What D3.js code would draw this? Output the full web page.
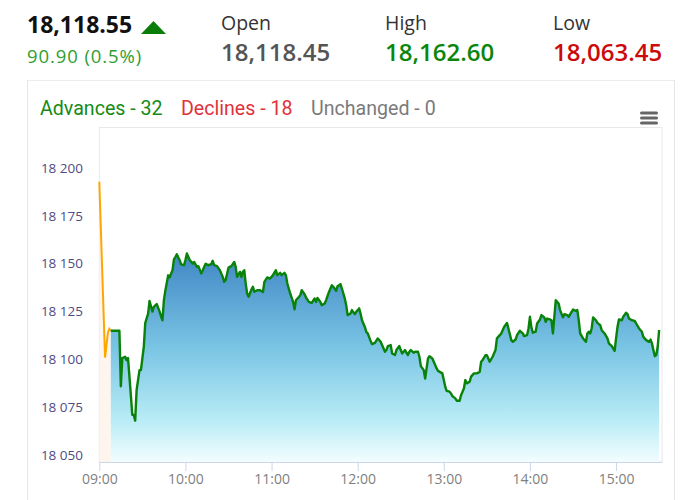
<!DOCTYPE html>
<html><head><meta charset="utf-8">
<script src="https://cdn.jsdelivr.net/npm/d3@7"></script>
<style>
html,body{margin:0;padding:0;background:#fff;}
svg{display:block;}
</style></head>
<body>
<div id="chart"></div>
<script>
// ---------- data ----------
const preOpenTimes = ["09:00","09:04","09:06","09:07","09:08"];
const preOpenValues = [18193,18101,18114,18116,18115];

const times = ["09:08","09:14","09:15","09:16","09:18","09:19","09:20","09:21","09:23","09:24","09:25","09:26","09:28","09:29","09:31","09:32","09:34","09:35","09:37","09:38","09:40","09:42","09:43","09:44","09:45","09:46","09:48","09:49","09:51","09:52","09:53","09:54","09:56","09:57","09:59","10:00","10:01","10:03","10:05","10:06","10:08","10:09","10:11","10:12","10:14","10:16","10:18","10:19","10:20","10:22","10:24","10:26","10:27","10:28","10:30","10:32","10:34","10:35","10:36","10:38","10:39","10:40","10:41","10:42","10:43","10:44","10:46","10:47","10:48","10:50","10:52","10:54","10:55","10:57","10:59","11:01","11:03","11:04","11:06","11:07","11:09","11:10","11:11","11:13","11:15","11:16","11:17","11:19","11:20","11:21","11:23","11:24","11:26","11:27","11:28","11:30","11:31","11:32","11:34","11:35","11:37","11:38","11:40","11:42","11:43","11:45","11:46","11:47","11:48","11:49","11:51","11:52","11:53","11:55","11:56","11:58","11:59","12:01","12:02","12:03","12:05","12:06","12:07","12:09","12:10","12:12","12:14","12:16","12:17","12:19","12:20","12:21","12:23","12:24","12:26","12:27","12:29","12:30","12:31","12:33","12:34","12:35","12:36","12:37","12:39","12:40","12:42","12:43","12:44","12:46","12:47","12:48","12:49","12:50","12:52","12:53","12:55","12:56","12:59","13:00","13:01","13:02","13:04","13:05","13:06","13:08","13:09","13:11","13:12","13:14","13:15","13:16","13:18","13:19","13:21","13:23","13:25","13:26","13:27","13:29","13:30","13:32","13:34","13:36","13:37","13:39","13:40","13:42","13:44","13:45","13:47","13:48","13:50","13:51","13:53","13:55","13:56","13:58","13:59","14:00","14:01","14:02","14:04","14:05","14:07","14:08","14:10","14:11","14:12","14:14","14:15","14:16","14:17","14:18","14:20","14:21","14:23","14:24","14:26","14:27","14:29","14:30","14:32","14:33","14:34","14:35","14:37","14:39","14:40","14:41","14:42","14:43","14:44","14:46","14:47","14:49","14:50","14:52","14:54","14:55","14:57","14:59","15:00","15:01","15:02","15:04","15:05","15:07","15:08","15:09","15:11","15:13","15:14","15:16","15:18","15:19","15:21","15:23","15:24","15:25","15:26","15:27","15:28","15:29","15:30"];
const values = [18115,18115,18086,18100.7,18101.4,18099.6,18100.7,18091,18071,18071,18068,18084,18094.4,18094.4,18106.6,18119,18124,18130.6,18125,18127.5,18129,18125,18122.6,18120.5,18131,18136,18144,18143,18146.7,18152.3,18153.6,18155,18151.9,18149.7,18149.3,18152,18155.4,18152,18150.2,18151,18148.4,18148.8,18145,18146.5,18150,18149.3,18149.8,18151.6,18149.3,18148.8,18146.7,18143.2,18140.6,18141.5,18148,18148.8,18151,18148.4,18143.2,18145.8,18143.2,18145.8,18146.7,18139.7,18134.5,18132.8,18136.6,18138,18135.4,18136.2,18136.2,18135.3,18140.6,18142.9,18142.3,18144.1,18146.7,18144.1,18145.3,18144.1,18145.3,18144.1,18139.7,18134.5,18130.1,18126.2,18131,18132.7,18133.6,18136.2,18134.1,18132.4,18130.1,18129.8,18129.6,18131.9,18130.1,18132.2,18130.1,18128.4,18129.3,18131,18135.3,18138.8,18138,18135.9,18138.3,18138.8,18139.4,18137.1,18131.9,18128.4,18123.2,18124,18125.8,18123.7,18124.9,18126.7,18124,18120.5,18117,18114.4,18113.6,18109.7,18108,18108.7,18111,18109.2,18107.5,18104,18104.9,18107,18107.5,18103.1,18102.3,18104.9,18107,18104.9,18103.1,18104.9,18103.5,18102.3,18104,18104.9,18103.5,18104,18104,18101.4,18096.5,18094.4,18090,18095.3,18100.5,18101.7,18100.5,18098.8,18095.3,18094,18092.7,18089.2,18085.7,18083.6,18083.1,18082.2,18080.8,18079.6,18078.4,18078.4,18081.3,18084.8,18089.2,18087.5,18088.3,18091,18092.7,18092.7,18093.5,18098.8,18099.6,18102.2,18102.2,18098.8,18101.4,18104.9,18111,18112.7,18113.6,18117,18119.1,18116.2,18110.1,18109.2,18110.4,18112.7,18115,18113.6,18112.2,18112.7,18116.2,18122.3,18117,18114,18114.5,18118.8,18120.9,18123.2,18122,18119.7,18121.4,18120.9,18120.5,18113.6,18122.3,18131,18129.3,18125.8,18122,18123.7,18123.2,18122.3,18124.9,18126.1,18125.4,18125.8,18120.5,18113.6,18111,18109.2,18113.6,18114.5,18113.6,18116.2,18122,18120.5,18119.1,18117.9,18115.3,18113.6,18111,18108.4,18107,18104.5,18111,18117,18120.9,18120.5,18122.3,18124.4,18123.7,18121.4,18120.5,18120.2,18118.8,18116.2,18114.5,18111.8,18110.1,18109.2,18110.4,18108.4,18104.9,18101.7,18102.3,18106.6,18115.4];

const yTicks = [18050,18075,18100,18125,18150,18175,18200];
const xTickLabels = ["09:00","10:00","11:00","12:00","13:00","14:00","15:00"];

const lastPrice = "18,118.55";
const change = "90.90 (0.5%)";
const statLabels = ["Open","High","Low"];
const statValues = ["18,118.45","18,162.60","18,063.45"];
const legendItems = ["Advances - 32","Declines - 18","Unchanged - 0"];

// ---------- drawing ----------
const W = 690, H = 500;
const svg = d3.select("#chart").append("svg").attr("width", W).attr("height", H);
const parse = d3.timeParse("%H:%M");

const x = d3.scaleTime().domain([parse("09:00"), parse("15:32")]).range([99.3, 662]);
const y = d3.scaleLinear().domain([18046.34, 18221.6]).range([462, 127]);

// header
const hdrFont = "Open Sans, sans-serif";
svg.append("text").attr("x", 27).attr("y", 33).text(lastPrice)
  .attr("font-family", hdrFont).attr("font-weight", 700).attr("font-size", 23).attr("fill", "#111");
svg.append("path").attr("d", "M141,34 L153.5,21 L166,34 Z").attr("fill", "#0a7d0a");
svg.append("text").attr("x", 27).attr("y", 63).text(change)
  .attr("font-family", hdrFont).attr("font-size", 18.5).attr("letter-spacing", 0.9).attr("fill", "#2f9e2f");
const statX = [221, 385, 553];
const statColors = ["#555555", "#0a860a", "#cc0a0a"];
statLabels.forEach((s, i) => {
  svg.append("text").attr("x", statX[i]).attr("y", 30).text(s)
    .attr("font-family", hdrFont).attr("font-size", 19.5).attr("fill", "#333");
  svg.append("text").attr("x", statX[i]).attr("y", 61).text(statValues[i])
    .attr("font-family", hdrFont).attr("font-weight", 600).attr("font-size", 24).attr("fill", statColors[i]);
});

// card
svg.append("line").attr("x1", 27).attr("x2", 675).attr("y1", 80.5).attr("y2", 80.5).attr("stroke", "#ececec");
svg.append("line").attr("x1", 27.5).attr("x2", 27.5).attr("y1", 80).attr("y2", 500).attr("stroke", "#e6e6e6");
svg.append("line").attr("x1", 674.5).attr("x2", 674.5).attr("y1", 80).attr("y2", 500).attr("stroke", "#e6e6e6");

// legend
const legColors = ["#168a16", "#e0323a", "#7a7a7a"];
const legX = [40, 181, 311];
legendItems.forEach((t, i) => {
  svg.append("text").attr("x", legX[i]).attr("y", 115).text(t)
    .attr("font-family", "Roboto, sans-serif").attr("font-size", 19.6).attr("fill", legColors[i]);
});
// menu icon
[113, 118, 123].forEach(yy => {
  svg.append("rect").attr("x", 640).attr("y", yy - 1.5).attr("width", 18).attr("height", 3)
    .attr("rx", 1.5).attr("fill", "#666");
});

// plot frame
svg.append("rect").attr("x", 99.3).attr("y", 127.5).attr("width", 662 - 99.3).attr("height", 462 - 127.5)
  .attr("fill", "none").attr("stroke", "#e8e8e8");

// gradient
const defs = svg.append("defs");
const grad = defs.append("linearGradient").attr("id", "g1").attr("gradientUnits", "userSpaceOnUse")
  .attr("x1", 0).attr("x2", 0).attr("y1", y(18156)).attr("y2", 462);
grad.append("stop").attr("offset", 0).attr("stop-color", "#3f86c4");
grad.append("stop").attr("offset", 0.45).attr("stop-color", "#79c4e4");
grad.append("stop").attr("offset", 0.8).attr("stop-color", "#b9ecf6");
grad.append("stop").attr("offset", 1).attr("stop-color", "#f2fdff");

const pre = preOpenTimes.map((t, i) => ({ t: parse(t), v: preOpenValues[i] }));
const main = times.map((t, i) => ({ t: parse(t), v: values[i] }));

const area = d3.area().x(d => x(d.t)).y0(462).y1(d => y(d.v));
const line = d3.line().x(d => x(d.t)).y(d => y(d.v));

svg.append("path").datum(pre).attr("d", area).attr("fill", "#fef4ea").attr("opacity", 0.8);
svg.append("path").datum(main).attr("d", area).attr("fill", "url(#g1)");
svg.append("path").datum(pre).attr("d", line).attr("fill", "none").attr("stroke", "#ffa500").attr("stroke-width", 2);
svg.append("path").datum(main).attr("d", line).attr("fill", "none").attr("stroke", "#098209")
  .attr("stroke-width", 2.4).attr("stroke-linejoin", "round");

// y axis labels
svg.selectAll(".yl").data(yTicks).enter().append("text")
  .attr("x", 83).attr("y", d => y(d) + 4.5).attr("text-anchor", "end")
  .attr("font-family", "Open Sans, sans-serif").attr("font-size", 13.5).attr("fill", "#4d4d85")
  .text(d => d3.format(",")(d).replace(",", " "));

// x axis
const xAxis = d3.axisBottom(x).tickValues(xTickLabels.map(parse)).tickFormat(d3.timeFormat("%H:%M")).tickSize(9).tickSizeOuter(0);
const gx = svg.append("g").attr("transform", "translate(0,462)").call(xAxis);
gx.select(".domain").attr("stroke", "#ccd6eb");
gx.selectAll(".tick line").attr("stroke", "#ccd6eb");
gx.selectAll(".tick text").attr("font-family", "Open Sans, sans-serif").attr("font-size", 14)
  .attr("fill", "#808080").attr("dy", "0.85em").attr("y", 10);
</script>
</body></html>
